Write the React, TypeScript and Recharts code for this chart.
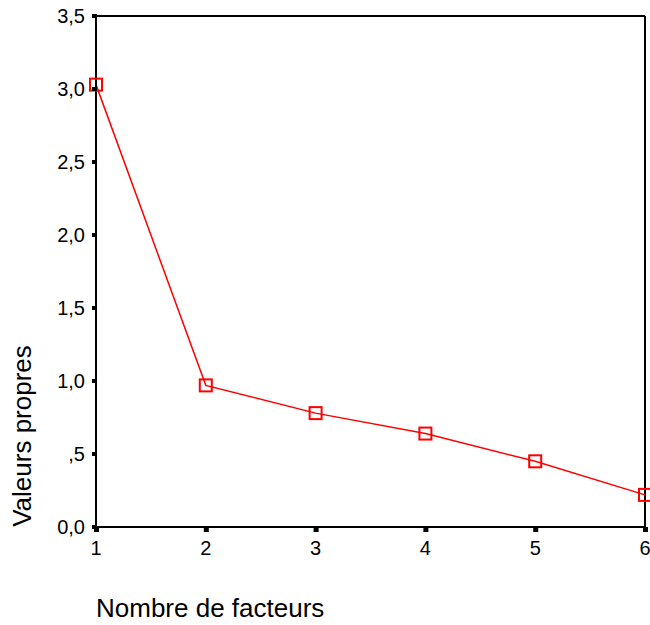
import { LineChart, Line, XAxis, YAxis, ReferenceLine } from "recharts";

const factors = [1, 2, 3, 4, 5, 6];
const eigenvalues = [3.03, 0.97, 0.78, 0.64, 0.45, 0.22];
const yTicks = [0, 0.5, 1, 1.5, 2, 2.5, 3, 3.5];
const yTickLabels = ["0,0", ",5", "1,0", "1,5", "2,0", "2,5", "3,0", "3,5"];

const data = factors.map((f, i) => ({ factor: f, value: eigenvalues[i] }));

const FONT = "'Liberation Sans', Arial, sans-serif";

function YTick(props: any) {
  const { x, y, payload } = props;
  const idx = yTicks.indexOf(payload.value);
  return (
    <g>
      <rect x={x - 4} y={y - 2} width={5} height={4} fill="#000" />
      <text x={x - 11} y={y} dy="0.36em" textAnchor="end" fontSize={20} fontFamily={FONT} fill="#000">
        {yTickLabels[idx]}
      </text>
    </g>
  );
}

function XTick(props: any) {
  const { x, y, payload } = props;
  return (
    <g>
      <rect x={x - 2} y={y} width={5} height={5} fill="#000" />
      <text x={x} y={y + 28} textAnchor="middle" fontSize={20} fontFamily={FONT} fill="#000">
        {payload.value}
      </text>
    </g>
  );
}

function SquareDot(props: any) {
  const { cx, cy } = props;
  return <rect x={cx - 6} y={cy - 6} width={12} height={12} fill="none" stroke="#ff0000" strokeWidth={2} />;
}

export default function App() {
  return (
    <div style={{ position: "fixed", left: 0, top: 0, width: 650, height: 625, overflow: "hidden", background: "#fff", fontFamily: FONT }}>
      <LineChart width={650} height={625} data={data} margin={{ top: 16, right: 5, bottom: 68, left: 0 }}>
        <XAxis
          dataKey="factor"
          type="number"
          domain={[1, 6]}
          ticks={factors}
          tickSize={0}
          tickMargin={0}
          height={30}
          tick={<XTick />}
          axisLine={{ stroke: "#000", strokeWidth: 2 }}
        />
        <YAxis
          type="number"
          domain={[0, 3.5]}
          ticks={yTicks}
          tickSize={0}
          tickMargin={0}
          width={96}
          tick={<YTick />}
          axisLine={{ stroke: "#000", strokeWidth: 2 }}
        />
        <ReferenceLine y={3.5} stroke="#000" strokeWidth={2} />
        <ReferenceLine x={6} stroke="#000" strokeWidth={2} />
        <Line
          dataKey="value"
          stroke="#ff0000"
          strokeWidth={1.5}
          dot={<SquareDot />}
          activeDot={false}
          isAnimationActive={false}
        />
      </LineChart>
      <div style={{ position: "absolute", left: 96, top: 594, fontSize: 26, lineHeight: "29px", whiteSpace: "nowrap", color: "#000" }}>
        Nombre de facteurs
      </div>
      <div
        style={{
          position: "absolute",
          left: 22,
          top: 436,
          fontSize: 26,
          lineHeight: "30px",
          whiteSpace: "nowrap",
          color: "#000",
          transform: "translate(-50%, -50%) rotate(-90deg)",
        }}
      >
        Valeurs propres
      </div>
    </div>
  );
}
